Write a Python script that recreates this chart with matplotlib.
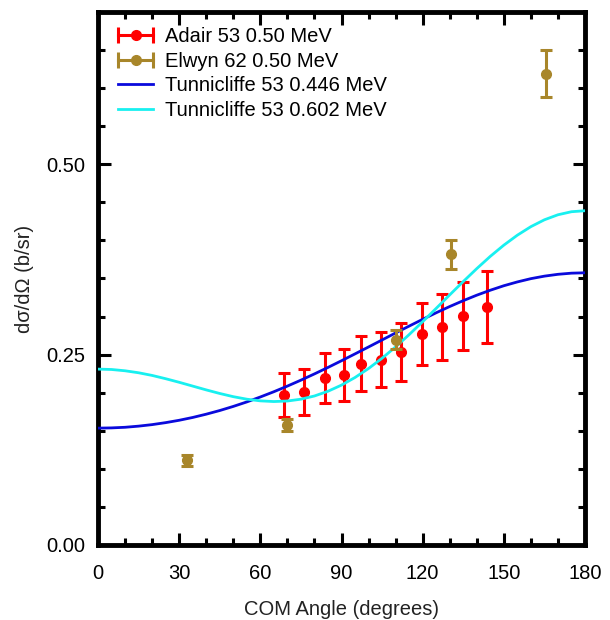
import matplotlib
matplotlib.use("Agg")
import matplotlib.pyplot as plt
from matplotlib.lines import Line2D
from matplotlib.legend_handler import HandlerBase
from matplotlib.ticker import MultipleLocator

plt.rcParams['font.family'] = ['Liberation Sans', 'DejaVu Sans']

# ---- data ----
adair_angle = [68.9, 76.2, 83.9, 90.8, 97.1, 104.7, 112.0, 119.6, 127.1, 135.0, 143.6]
adair_xs = [0.1965, 0.2009, 0.2193, 0.2228, 0.2380, 0.2434, 0.2535, 0.2770, 0.2860, 0.3004, 0.3127]
adair_err = [0.029, 0.030, 0.033, 0.034, 0.036, 0.036, 0.038, 0.041, 0.043, 0.0445, 0.047]

elwyn_angle = [32.8, 70.0, 110.1, 130.3, 165.6]
elwyn_xs = [0.111, 0.158, 0.2697, 0.3816, 0.619]
elwyn_err = [0.0066, 0.008, 0.0127, 0.019, 0.031]

curve_angle = [0, 5, 10, 15, 20, 25, 30, 35, 40, 45, 50, 55, 60, 65, 70, 75, 80, 85, 90,
               95, 100, 105, 110, 115, 120, 125, 130, 135, 140, 145, 150, 155, 160, 165,
               170, 175, 180]
tunn_446 = [0.1535, 0.1538, 0.1546, 0.1561, 0.1581, 0.1607, 0.1638, 0.1675, 0.1718, 0.1766,
            0.1820, 0.1879, 0.1944, 0.2013, 0.2087, 0.2165, 0.2247, 0.2332, 0.2420, 0.2510,
            0.2601, 0.2693, 0.2785, 0.2875, 0.2964, 0.3050, 0.3132, 0.3209, 0.3281, 0.3346,
            0.3405, 0.3455, 0.3498, 0.3531, 0.3555, 0.3570, 0.3575]
tunn_602 = [0.2310, 0.2305, 0.2288, 0.2262, 0.2227, 0.2184, 0.2137, 0.2087, 0.2037, 0.1990,
            0.1948, 0.1915, 0.1893, 0.1884, 0.1891, 0.1915, 0.1957, 0.2019, 0.2100, 0.2200,
            0.2318, 0.2453, 0.2602, 0.2763, 0.2933, 0.3108, 0.3285, 0.3460, 0.3630, 0.3791,
            0.3938, 0.4069, 0.4181, 0.4271, 0.4337, 0.4377, 0.4390]

x_ticks = [0, 30, 60, 90, 120, 150, 180]
y_ticks = [0.00, 0.25, 0.50]
y_ticklabels = ["0.00", "0.25", "0.50"]

labels = ["Adair 53 0.50 MeV", "Elwyn 62 0.50 MeV",
          "Tunnicliffe 53 0.446 MeV", "Tunnicliffe 53 0.602 MeV"]

RED = "#FF0000"
OLIVE = "#A8862A"
BLUE = "#0A0ADC"
CYAN = "#18F0F0"

fig = plt.figure(figsize=(6.1, 6.2), dpi=100)
ax = fig.add_axes([98 / 610, 75 / 620, 487 / 610, 533 / 620])

ax.plot(curve_angle, tunn_446, color=BLUE, lw=2.0, zorder=3)
ax.plot(curve_angle, tunn_602, color=CYAN, lw=2.0, zorder=3)
ax.errorbar(adair_angle, adair_xs, yerr=adair_err, fmt='o', color=RED, ms=7,
            elinewidth=2.2, capsize=4.5, capthick=2.2, zorder=2)
ax.errorbar(elwyn_angle, elwyn_xs, yerr=elwyn_err, fmt='o', color=OLIVE, ms=7,
            elinewidth=2.2, capsize=4.5, capthick=2.2, zorder=4)

ax.set_xlim(0, 180)
ax.set_ylim(0, 0.70)
ax.set_xticks(x_ticks)
ax.set_yticks(y_ticks)
ax.set_yticklabels(y_ticklabels)
ax.xaxis.set_minor_locator(MultipleLocator(10))
ax.yaxis.set_minor_locator(MultipleLocator(0.05))
ax.tick_params(which='both', direction='in', top=True, right=True, width=2.2,
               labelsize=14.5, color='black')
ax.tick_params(which='major', length=9)
ax.tick_params(which='minor', length=5)
ax.tick_params(axis='x', which='major', pad=14)
ax.tick_params(axis='y', which='major', pad=9)
for s in ax.spines.values():
    s.set_linewidth(3.5)

ax.set_xlabel("COM Angle (degrees)", fontsize=14.5, color='#222222', labelpad=12)
ax.set_ylabel("dσ/dΩ (b/sr)", fontsize=14.5, color='#222222', labelpad=9)


class ErrHandler(HandlerBase):
    def __init__(self, color):
        super().__init__()
        self.color = color

    def create_artists(self, legend, orig, xd, yd, w, h, fs, trans):
        y = h / 2 - yd
        x0, x1 = -xd, -xd + w
        line = Line2D([x0, x1], [y, y], color=self.color, lw=2.2)
        caps = Line2D([x0, x1], [y, y], ls='none', marker='|', ms=11, mew=2.2,
                      color=self.color)
        dot = Line2D([(x0 + x1) / 2], [y], ls='none', marker='o', ms=7,
                     color=self.color)
        for a in (line, caps, dot):
            a.set_transform(trans)
        return [line, caps, dot]


h_adair = Line2D([], [], color=RED)
h_elwyn = Line2D([], [], color=OLIVE)
h_b = Line2D([], [], color=BLUE, lw=2.0)
h_c = Line2D([], [], color=CYAN, lw=2.0)
ax.legend([h_adair, h_elwyn, h_b, h_c], labels,
          handler_map={h_adair: ErrHandler(RED), h_elwyn: ErrHandler(OLIVE)},
          loc='upper left', bbox_to_anchor=(20 / 487, 1 - 15 / 533),
          frameon=False, fontsize=14.5, borderpad=0, borderaxespad=0,
          handlelength=1.75, handletextpad=0.6, labelspacing=0.28)

fig.savefig("out.png", dpi=100)
